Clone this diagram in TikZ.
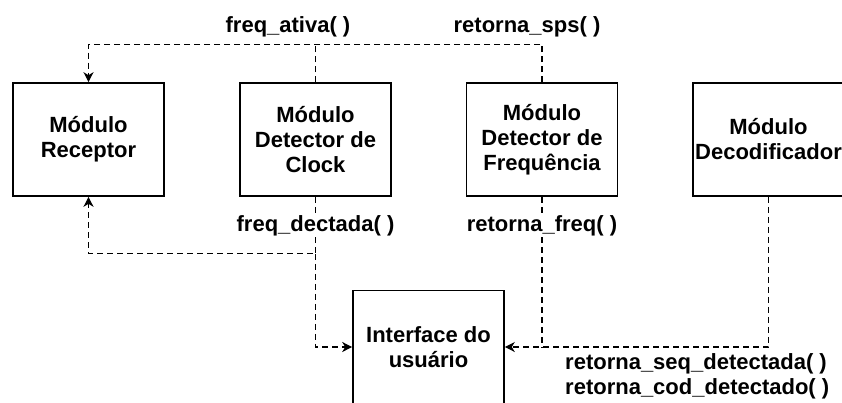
\documentclass[tikz,border=0pt]{standalone}
\usepackage{fontspec}
\setmainfont{Liberation Sans}
\usetikzlibrary{arrows.meta}
\begin{document}
\begin{tikzpicture}[x=1pt,y=-1pt,
  txt/.style={font=\fontsize{22}{25}\selectfont\bfseries},
  box/.style={draw, line width=1.6pt, minimum width=151pt, minimum height=113pt,
    inner sep=0pt, align=center, txt},
  lbl/.style={txt, inner sep=0.5pt, fill=white},
  dashline/.style={line width=1.2pt, dash pattern=on 6pt off 4pt},
  conn/.style={dashline, -{Stealth[length=10pt,width=10pt,inset=3pt]}}]
  \clip (0,0) rectangle (842,403);
  \fill[white] (0,0) rectangle (842,403);

  % modules
  \node[box] (rec) at (88.5,139.5) {Módulo\\Receptor};
  \node[box] (clk) at (315.5,139.5) {Módulo\\Detector de\\Clock};
  \node[box] (frq) at (542,139.5) {Módulo\\Detector de\\Frequência};
  \node[box] (dec) at (768.5,139.5) {Módulo\\Decodificador};
  \node[box] (ui) at (428.5,347) {Interface do\\usuário};

  % junction points where calls share a line
  \path (clk.north) ++(0,-38) coordinate (jt);
  \path (clk.south) ++(0,57) coordinate (jb);
  \path (frq.south |- ui.east) coordinate (jr);

  % calls going up to the receiver
  \draw[conn] (frq.north) -- ++(0,-38) -| (rec.north);
  \draw[dashline] (clk.north) -- (jt);
  \draw[conn] (clk.south) -- (jb) -| (rec.south);

  % calls going to the user interface
  \draw[conn] (jb) |- (ui.west);
  \draw[dashline] (frq.south) -- (jr);
  \draw[conn] (dec.south) |- (ui.east);

  % function labels
  \node[txt, inner sep=0pt] (l1) at (288,27) {freq\_ativa( )};
  \node[txt, inner sep=0pt] (l2) at (527,27) {retorna\_sps( )};
  \node[lbl] (l3) at (315.5,226) {freq\_dectada( )};
  \node[lbl] (l4) at (542,226) {retorna\_freq( )};
  \node[txt, inner sep=0pt, anchor=north west, align=left] (l5) at (565,353)
    {retorna\_seq\_detectada( )\\retorna\_cod\_detectado( )};
\end{tikzpicture}
\end{document}
